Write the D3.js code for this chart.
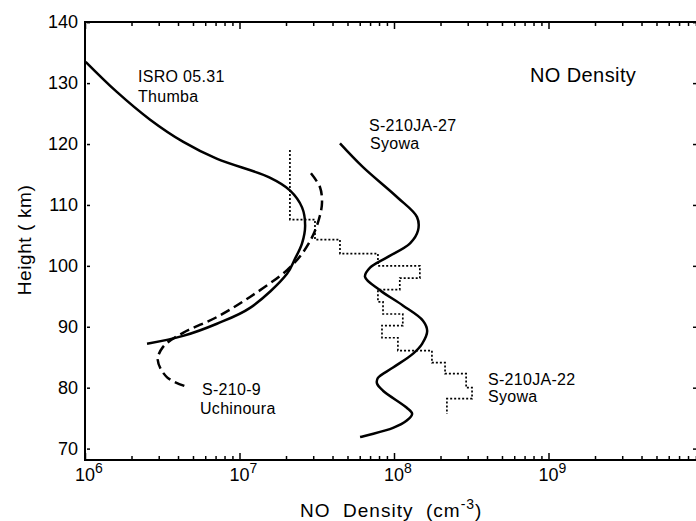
<!DOCTYPE html>
<meta charset="utf-8">
<style>
body { margin: 0; background: #fff; }
svg { display: block; font-family: "Liberation Sans", Arial, sans-serif; }
.frame { fill: none; stroke: #000; stroke-width: 2px; }
.axis path { display: none; }
.axis line { stroke: #000; stroke-width: 1.5px; }
.axis text { font-size: 18px; fill: #000; font-family: "Liberation Sans", Arial, sans-serif; }
.curve { fill: none; stroke: #000; stroke-width: 2.5px; }
.dashed { stroke-dasharray: 10,5; }
.steps { fill: none; stroke: #000; stroke-width: 1.7px; stroke-dasharray: 2,2; }
.label { font-size: 16px; letter-spacing: 0.3px; }
</style>
<svg width="696" height="521"></svg>
<script src="https://cdn.jsdelivr.net/npm/d3@7"></script>
<script>

// ISRO 05.31, Thumba (solid)
var isroH = [133.5, 128.6, 124.0, 120.35, 117.6, 114.5, 112.4, 109.6, 106.6, 103.7, 101.2, 98.7, 93.1, 90.5, 88.5, 87.2];
var isroN = [1.01e6, 1.60e6, 2.64e6, 4.33e6, 7.11e6, 1.57e7, 2.12e7, 2.54e7, 2.66e7, 2.54e7, 2.29e7, 2.03e7, 1.17e7, 7.14e6, 4.31e6, 2.52e6];

// S-210-9, Uchinoura (dashed)
var uchiH = [115.2, 112.9, 110.4, 108.3, 105.0, 102.0, 99.3, 94.9, 91.6, 89.0, 86.7, 84.5, 81.7, 80.1];
var uchiN = [2.90e7, 3.32e7, 3.42e7, 3.32e7, 2.99e7, 2.54e7, 2.03e7, 1.17e7, 7.14e6, 4.31e6, 3.20e6, 2.96e6, 3.40e6, 4.64e6];

// S-210JA-27, Syowa (solid)
var ja27H = [120.1, 116.2, 111.3, 108.0, 105.8, 103.7, 101.4, 99.7, 98.2, 96.0, 93.5, 91.0, 89.3, 87.2, 85.6, 83.3, 81.6, 80.7, 79.5, 76.7, 75.7, 74.6, 73.4, 71.9];
var ja27N = [4.47e7, 6.30e7, 1.045e8, 1.41e8, 1.43e8, 1.27e8, 9.02e7, 7.0e7, 6.49e7, 8.11e7, 1.14e8, 1.54e8, 1.64e8, 1.52e8, 1.33e8, 9.86e7, 7.87e7, 7.76e7, 8.49e7, 1.21e8, 1.31e8, 1.21e8, 9.86e7, 6.03e7];

// S-210JA-22, Syowa (dotted step profile): layer boundaries and layer densities
var ja22H = [119.0, 107.6, 104.3, 102.0, 100.0, 98.0, 96.1, 94.1, 92.1, 90.2, 88.2, 86.1, 84.1, 82.3, 80.0, 78.2, 75.7];
var ja22N = [2.12e7, 3.08e7, 4.47e7, 7.87e7, 1.47e8, 1.09e8, 7.87e7, 8.49e7, 1.14e8, 8.36e7, 1.06e8, 1.76e8, 2.14e8, 2.93e8, 3.2e8, 2.2e8];

var heightTicks = [70, 80, 90, 100, 110, 120, 130, 140];
var decades = [6, 7, 8, 9];

var svg = d3.select("svg"),
    pLeft = 85, pRight = 697, pTop = 22, pBottom = 460;

var x = d3.scaleLog().domain([1e6, 1e10]).range([85, 703]),
    y = d3.scaleLinear().domain([70, 140]).range([448.6, 22.2]);

var majors = decades.map(function(d) { return Math.pow(10, d); }),
    minors = [];
decades.forEach(function(d) {
  for (var m = 2; m <= 9; m++) {
    var v = m * Math.pow(10, d);
    if (x(v) < pRight - 1) minors.push(v);
  }
});

// ticks (all pointing inward)
svg.append("g").attr("class", "axis")
    .attr("transform", "translate(0," + pBottom + ")")
    .call(d3.axisBottom(x).tickValues(minors).tickSize(-4).tickFormat(""));
svg.append("g").attr("class", "axis")
    .attr("transform", "translate(0," + pBottom + ")")
    .call(d3.axisBottom(x).tickValues(majors).tickSize(-7).tickFormat(""));
svg.append("g").attr("class", "axis")
    .attr("transform", "translate(0," + pTop + ")")
    .call(d3.axisTop(x).tickValues(minors).tickSize(-4).tickFormat(""));
svg.append("g").attr("class", "axis")
    .attr("transform", "translate(0," + pTop + ")")
    .call(d3.axisTop(x).tickValues(majors).tickSize(-7).tickFormat(""));

svg.append("g").attr("class", "axis")
    .attr("transform", "translate(" + (pLeft + 2) + ",0)")
    .call(d3.axisLeft(y).tickValues(heightTicks).tickSize(-3).tickPadding(9));
svg.append("g").attr("class", "axis")
    .attr("transform", "translate(" + (pRight - 1) + ",0)")
    .call(d3.axisRight(y).tickValues(heightTicks).tickSize(-3).tickFormat(""));

// frame (right side runs off the page)
svg.append("path")
    .attr("class", "frame")
    .attr("d", "M" + pRight + "," + pTop + "H" + pLeft + "V" + pBottom + "H" + pRight);

// x tick labels 10^n
var xl = svg.selectAll(".xlab")
    .data(decades)
  .enter().append("text")
    .attr("class", "xlab")
    .attr("x", function(d) { return x(Math.pow(10, d)) - 10; })
    .attr("y", 481)
    .style("font-size", "18px");
xl.append("tspan").text("10");
xl.append("tspan").attr("dy", -8).style("font-size", "14px").text(function(d) { return d; });

// axis titles
svg.append("text")
    .attr("transform", "translate(31,240) rotate(-90)")
    .style("text-anchor", "middle")
    .style("font-size", "19px")
    .style("letter-spacing", "0.6px")
    .style("white-space", "pre")
    .text("Height ( km)");

var xt = svg.append("text")
    .attr("x", 300)
    .attr("y", 517)
    .style("font-size", "19px")
    .style("letter-spacing", "1px")
    .style("white-space", "pre");
xt.append("tspan").text("NO  Density  (cm");
xt.append("tspan").attr("dy", -8).style("font-size", "14px").text("-3");
xt.append("tspan").attr("dy", 8).text(")");

// curves
var line = d3.line()
    .curve(d3.curveCatmullRom.alpha(0.5))
    .x(function(d) { return x(d[1]); })
    .y(function(d) { return y(d[0]); });

function pairs(h, n) { return h.map(function(v, i) { return [v, n[i]]; }); }

svg.append("path").attr("class", "curve").attr("d", line(pairs(isroH, isroN)));
svg.append("path").attr("class", "curve dashed").attr("d", line(pairs(uchiH, uchiN)));
svg.append("path").attr("class", "curve").attr("d", line(pairs(ja27H, ja27N)));

var stepPts = [];
ja22N.forEach(function(n, i) {
  stepPts.push([ja22H[i], n]);
  stepPts.push([ja22H[i + 1], n]);
});
svg.append("path")
    .attr("class", "steps")
    .attr("d", d3.line().x(function(d) { return x(d[1]); }).y(function(d) { return y(d[0]); })(stepPts));

// labels
var labels = [
  {t: "ISRO 05.31", x: 138, y: 82},
  {t: "Thumba", x: 138, y: 102},
  {t: "S-210JA-27", x: 369, y: 131},
  {t: "Syowa", x: 370, y: 149},
  {t: "S-210-9", x: 202, y: 395},
  {t: "Uchinoura", x: 200, y: 414},
  {t: "S-210JA-22", x: 488, y: 385},
  {t: "Syowa", x: 488, y: 402}
];
svg.selectAll(".label")
    .data(labels)
  .enter().append("text")
    .attr("class", "label")
    .attr("x", function(d) { return d.x; })
    .attr("y", function(d) { return d.y; })
    .text(function(d) { return d.t; });

svg.append("text")
    .attr("x", 530)
    .attr("y", 82)
    .style("font-size", "20px")
    .style("letter-spacing", "0.4px")
    .text("NO Density");

</script>
